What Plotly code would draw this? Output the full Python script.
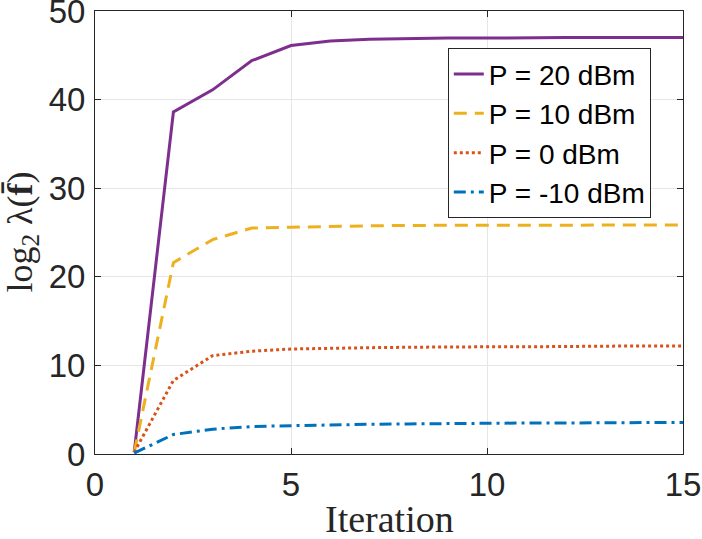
import plotly.graph_objects as go

# iteration index and log2 lambda(f) values
iterations = list(range(1, 16))
p20 = [0.2, 38.6, 41.1, 44.4, 46.1, 46.6, 46.8, 46.9, 46.95, 46.95, 47.0, 47.0, 47.0, 47.0, 47.0]
p10 = [0.2, 21.6, 24.2, 25.5, 25.6, 25.7, 25.75, 25.8, 25.8, 25.85, 25.85, 25.85, 25.85, 25.85, 25.85]
p0 = [0.2, 8.3, 11.1, 11.6, 11.85, 11.95, 12.0, 12.05, 12.1, 12.1, 12.1, 12.15, 12.15, 12.2, 12.2]
pm10 = [0.1, 2.2, 2.8, 3.1, 3.2, 3.3, 3.35, 3.4, 3.45, 3.5, 3.5, 3.5, 3.55, 3.55, 3.55]

series = [
    ("P = 20 dBm", p20, "#7E2F8E", "solid"),
    ("P = 10 dBm", p10, "#EDB120", "13px,8px"),
    ("P = 0 dBm", p0, "#D95319", "3px,3px"),
    ("P = -10 dBm", pm10, "#0072BD", "12px,5px,3px,5px"),
]

fig = go.Figure()
for name, vals, color, dash in series:
    fig.add_trace(go.Scatter(x=iterations, y=vals, mode="lines", name=name,
                             line=dict(color=color, width=3, dash=dash)))

axis_common = dict(showline=True, linecolor="#262626", linewidth=1, mirror="ticks",
                   ticks="inside", ticklen=6, tickcolor="#262626",
                   showgrid=True, gridcolor="#e6e6e6", gridwidth=1, zeroline=False,
                   automargin=False, ticklabeloverflow="allow",
                   tickfont=dict(family="Liberation Sans, Arial", size=33, color="#262626"))

fig.update_xaxes(range=[0, 15], tickvals=[0, 5, 10, 15], ticklabelstandoff=1, **axis_common)
fig.update_yaxes(range=[0, 50], tickvals=[0, 10, 20, 30, 40, 50], ticklabelstandoff=2, **axis_common)

# axis titles as annotations so they sit where the LaTeX labels were
fig.add_annotation(text="Iteration", xref="paper", yref="paper", x=0.5, y=-0.147,
                   xanchor="center", yanchor="middle", showarrow=False,
                   font=dict(family="Liberation Serif", size=38, color="#262626"))
fig.add_annotation(text="log<sub>2</sub> λ(<b>f̄</b>)", xref="paper", yref="paper", x=-0.124, y=0.5,
                   xanchor="center", yanchor="middle", textangle=-90, showarrow=False,
                   font=dict(family="Liberation Serif", size=36, color="#262626"))

fig.update_layout(
    width=702, height=539,
    margin=dict(l=95, r=19, t=11, b=85),
    plot_bgcolor="white", paper_bgcolor="white",
    legend=dict(x=0.600, y=0.916, xanchor="left", yanchor="top",
                bgcolor="white", bordercolor="#262626", borderwidth=1,
                font=dict(family="Liberation Sans, Arial", size=28, color="black"),
                tracegroupgap=0, itemwidth=30),
)

fig.write_html("out.html", config={"displayModeBar": False},
               post_script="document.body.style.margin='0';")
